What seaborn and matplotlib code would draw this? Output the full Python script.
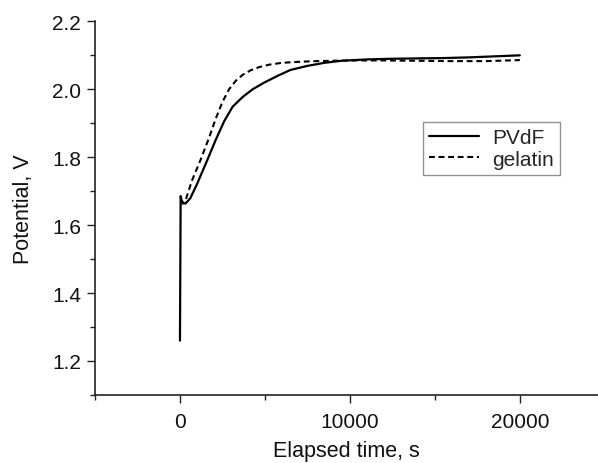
import matplotlib
matplotlib.use("Agg")
import matplotlib.pyplot as plt
from matplotlib.ticker import MultipleLocator
import seaborn as sns
import pandas as pd

pvdf_t = [0, 40, 100, 200, 320, 600, 1000, 1600, 2100, 2600, 3100, 3700, 4300,
          5000, 5800, 6500, 7500, 8500, 9500, 11000, 12500, 14000, 15500, 17000,
          18500, 20000]
pvdf_v = [1.26, 1.685, 1.672, 1.664, 1.663, 1.678, 1.72, 1.79, 1.85, 1.905,
          1.948, 1.977, 2.000, 2.020, 2.040, 2.056, 2.068, 2.077, 2.083, 2.087,
          2.089, 2.090, 2.091, 2.093, 2.096, 2.099]

gel_t = [60, 150, 300, 700, 1200, 1700, 2100, 2500, 2900, 3300, 3700, 4200,
         4700, 5300, 6000, 7000, 8000, 9000, 10000, 12000, 14000, 16000, 18000,
         20000]
gel_v = [1.672, 1.663, 1.668, 1.73, 1.79, 1.855, 1.912, 1.962, 2.000, 2.025,
         2.042, 2.056, 2.065, 2.072, 2.077, 2.080, 2.082, 2.083, 2.084, 2.084,
         2.083, 2.082, 2.082, 2.085]

series_names = ["PVdF", "gelatin"]
x_ticks = [0, 10000, 20000]
y_ticks = [1.2, 1.4, 1.6, 1.8, 2.0, 2.2]

sns.set_theme(style="ticks")
plt.rcParams['font.family'] = ['Liberation Sans', 'DejaVu Sans']

df1 = pd.DataFrame({"t": pvdf_t, "v": pvdf_v})
df2 = pd.DataFrame({"t": gel_t, "v": gel_v})

fig = plt.figure(figsize=(5.98, 4.64), dpi=100)
ax = fig.add_axes([95/598, 1 - 396/464, 1 - 95/598, (396 - 22)/464])

sns.lineplot(data=df1, x="t", y="v", ax=ax, color="black", lw=1.6,
             estimator=None, sort=False, label=series_names[0])
sns.lineplot(data=df2, x="t", y="v", ax=ax, color="black", lw=1.5,
             linestyle=(0, (2.8, 1.8)), estimator=None, sort=False,
             label=series_names[1])

ax.set_xlim(-5000, 24600)
ax.set_ylim(1.1, 2.2)
ax.set_xticks(x_ticks)
ax.set_xticklabels([str(v) for v in x_ticks])
ax.set_yticks(y_ticks)
ax.set_yticklabels([f"{v:.1f}" for v in y_ticks])
ax.xaxis.set_minor_locator(MultipleLocator(5000))
ax.yaxis.set_minor_locator(MultipleLocator(0.1))
ax.tick_params(axis="both", which="major", length=6, width=1, labelsize=15,
               color="#222222", labelcolor="#111111", direction="out")
ax.tick_params(axis="both", which="minor", length=3.5, width=1, color="#222222")
ax.tick_params(axis="x", pad=6)
ax.tick_params(axis="y", pad=4)

for s in ["top", "right"]:
    ax.spines[s].set_visible(False)
for s in ["left", "bottom"]:
    ax.spines[s].set_color("#222222")
    ax.spines[s].set_linewidth(1.2)

ax.set_xlabel("Elapsed time, s", fontsize=15.5, color="#111111", labelpad=7)
ax.set_ylabel("Potential, V", fontsize=15.5, color="#111111", labelpad=13)

leg = ax.legend(loc="upper left", bbox_to_anchor=((423 - 95) / 503, 1 - (123 - 22) / 374),
                fontsize=15, frameon=True, fancybox=False, handlelength=2.4,
                handletextpad=0.6, borderpad=0.3, labelspacing=0.12,
                borderaxespad=0)
leg.get_frame().set_edgecolor("#777777")
leg.get_frame().set_linewidth(1.0)

fig.savefig("out.png", dpi=100)
